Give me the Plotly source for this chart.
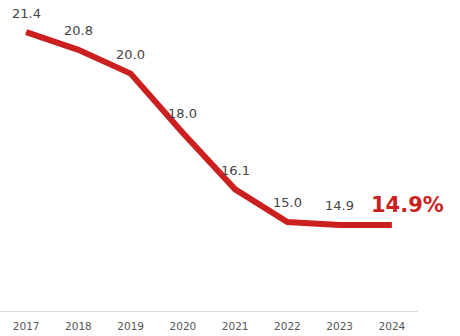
import plotly.graph_objects as go

years = ["2017", "2018", "2019", "2020", "2021", "2022", "2023", "2024"]
values = [21.4, 20.8, 20.0, 18.0, 16.1, 15.0, 14.9, 14.9]
labels = ["21.4", "20.8", "20.0", "18.0", "16.1", "15.0", "14.9", "14.9%"]

RED = "#cc1f1f"

fig = go.Figure()
fig.add_trace(go.Scatter(
    x=years, y=values, mode="lines",
    line=dict(color=RED, width=6), hoverinfo="skip",
))

for i, (v, lab) in enumerate(zip(values, labels)):
    if i == len(years) - 1:
        fig.add_annotation(x=i, y=v, text=lab, showarrow=False,
                           xshift=16, yshift=20,
                           font=dict(family="DejaVu Sans", size=21, color=RED, weight="bold"))
    else:
        fig.add_annotation(x=i, y=v, text=lab, showarrow=False,
                           yshift=19,
                           font=dict(family="DejaVu Sans", size=13, color="#444444"))

fig.update_layout(
    width=460, height=336,
    margin=dict(l=0, r=42, t=0, b=25),
    paper_bgcolor="white", plot_bgcolor="white",
    showlegend=False,
    xaxis=dict(type="category", range=[-0.5, 7.5], showgrid=False, zeroline=False,
               showline=True, linecolor="#dddddd", linewidth=1, ticks="",
               ticklabelstandoff=5,
               tickfont=dict(family="DejaVu Sans", size=10.5, color="#555555")),
    yaxis=dict(range=[12.0, 22.48], visible=False, showgrid=False, zeroline=False),
)

fig.write_html("out.html")
